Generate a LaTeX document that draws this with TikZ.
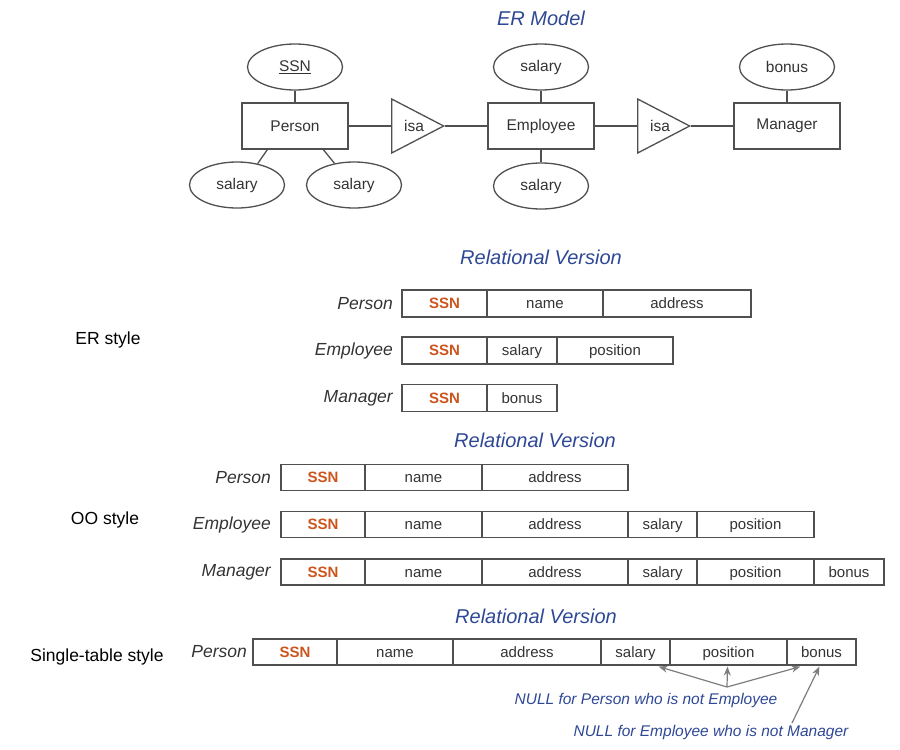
\documentclass[tikz,border=0pt]{standalone}
\usepackage{fontspec}
\setmainfont{Liberation Sans}
\usetikzlibrary{shapes.geometric,calc,arrows.meta}
\definecolor{ttl}{RGB}{46,72,150}
\definecolor{ssncol}{RGB}{204,85,30}
\definecolor{ink}{RGB}{51,51,51}
\definecolor{edgecol}{RGB}{80,80,80}
\definecolor{arrcol}{RGB}{125,125,125}
\newcommand{\mkcell}[6]{\node[cell, minimum width={#3-#2}, minimum height=#5] (#1) at ({(#2+#3)/2},#4) {#6};}
\begin{document}
\begin{tikzpicture}[x=1pt,y=-1pt,
  title/.style={font=\fontsize{20}{24}\selectfont\itshape, text=ttl, inner sep=0},
  sidelab/.style={font=\fontsize{17.5}{20}\selectfont, text=black, inner sep=0},
  rowlab/.style={anchor=east, font=\fontsize{17.5}{20}\selectfont\itshape, text=ink, inner sep=0},
  cell/.style={draw=edgecol, line width=1.2pt, inner sep=0, font=\fontsize{15}{18}\selectfont, text=ink, text height=10.7pt, text depth=0pt},
  ent/.style={draw=edgecol, line width=1.3pt, rectangle, minimum width=106, minimum height=46, inner sep=0, font=\fontsize{15.5}{18}\selectfont, text=ink},
  attr/.style={draw=edgecol, line width=1.3pt, ellipse, minimum width=95, minimum height=46, inner sep=0, font=\fontsize{15.5}{18}\selectfont, text=ink},
  isatri/.style={draw=edgecol, line width=1.3pt, isosceles triangle, isosceles triangle stretches, minimum width=54, minimum height=52, inner sep=0, anchor=west},
  isatext/.style={font=\fontsize{15.5}{18}\selectfont, text=ink, inner sep=0},
  link/.style={draw=edgecol, line width=1.3pt},
  nullnote/.style={font=\fontsize{15.5}{18}\selectfont\itshape, text=ttl, inner sep=0},
  nullarrow/.style={draw=arrcol, line width=1.2pt, -{Stealth[length=9pt,width=7pt]}}
]
\useasboundingbox (0,0) rectangle (900,750);

% ---------- ER model ----------
\node[title] (ertitle) at (541,18) {ER Model};
\node[ent] (person) at (295,126) {Person};
\node[ent] (employee) at (541,126) {Employee};
\node[ent] (manager) at (787,126) {Manager};
\node[attr] (ssn) at (295,67) {\underline{SSN}};
\node[attr] (salL) at (237,185) {salary};
\node[attr] (salR) at (354,185) {salary};
\node[attr] (salT) at (541,67) {salary};
\node[attr] (salB) at (541,186) {salary};
\node[attr] (bonus) at (787,67) {bonus};
\node[isatri] (isa1) at (391,126) {};
\node[isatri] (isa2) at (637,126) {};
\node[isatext] (isa1t) at ($(isa1.west)+(23,0)$) {isa};
\node[isatext] (isa2t) at ($(isa2.west)+(23,0)$) {isa};

\draw[link] (ssn) -- (person);
\draw[link] (salL.46) -- ($(person.south west)+(26,0)$);
\draw[link] (salR.132) -- ($(person.south west)+(82,0)$);
\draw[link] (person.east) -- (isa1.west);
\draw[link] (isa1.apex) -- (employee.west);
\draw[link] (salT) -- (employee);
\draw[link] (salB) -- (employee);
\draw[link] (employee.east) -- (isa2.west);
\draw[link] (isa2.apex) -- (manager.west);
\draw[link] (bonus) -- (manager);

% ---------- side labels ----------
\node[sidelab] (erstyle) at (108,340) {ER style};
\node[sidelab] (oostyle) at (105,520) {OO style};
\node[sidelab] (ststyle) at (97,657) {Single-table style};

% ---------- ER style relational ----------
\node[title] (rv1) at (541,257) {Relational Version};
\node[rowlab] (l1p) at (393,303.5) {Person};
\node[rowlab] (l1e) at (393,350.5) {Employee};
\node[rowlab] (l1m) at (393,398) {Manager};
\mkcell{aP1}{402}{487}{303.5}{27}{\textcolor{ssncol}{\bfseries SSN}}
\mkcell{aP2}{487}{603}{303.5}{27}{name}
\mkcell{aP3}{603}{751}{303.5}{27}{address}
\mkcell{aE1}{402}{487}{350.5}{27}{\textcolor{ssncol}{\bfseries SSN}}
\mkcell{aE2}{487}{557}{350.5}{27}{salary}
\mkcell{aE3}{557}{673}{350.5}{27}{position}
\mkcell{aM1}{402}{487}{398}{27}{\textcolor{ssncol}{\bfseries SSN}}
\mkcell{aM2}{487}{557}{398}{27}{bonus}

% ---------- OO style relational ----------
\node[title] (rv2) at (535,440) {Relational Version};
\node[rowlab] (l2p) at (271,477.5) {Person};
\node[rowlab] (l2e) at (271,524.5) {Employee};
\node[rowlab] (l2m) at (271,572) {Manager};
\mkcell{bP1}{281}{365}{477.5}{26}{\textcolor{ssncol}{\bfseries SSN}}
\mkcell{bP2}{365}{482}{477.5}{26}{name}
\mkcell{bP3}{482}{628}{477.5}{26}{address}
\mkcell{bE1}{281}{365}{524.5}{26}{\textcolor{ssncol}{\bfseries SSN}}
\mkcell{bE2}{365}{482}{524.5}{26}{name}
\mkcell{bE3}{482}{628}{524.5}{26}{address}
\mkcell{bE4}{628}{697}{524.5}{26}{salary}
\mkcell{bE5}{697}{814}{524.5}{26}{position}
\mkcell{bM1}{281}{365}{572}{26}{\textcolor{ssncol}{\bfseries SSN}}
\mkcell{bM2}{365}{482}{572}{26}{name}
\mkcell{bM3}{482}{628}{572}{26}{address}
\mkcell{bM4}{628}{697}{572}{26}{salary}
\mkcell{bM5}{697}{814}{572}{26}{position}
\mkcell{bM6}{814}{884}{572}{26}{bonus}

% ---------- single-table relational ----------
\node[title] (rv3) at (536,616) {Relational Version};
\node[rowlab] (l3p) at (247,652) {Person};
\mkcell{cP1}{253}{337}{652}{26}{\textcolor{ssncol}{\bfseries SSN}}
\mkcell{cP2}{337}{453}{652}{26}{name}
\mkcell{cP3}{453}{601}{652}{26}{address}
\mkcell{cP4}{601}{670}{652}{26}{salary}
\mkcell{cP5}{670}{787}{652}{26}{position}
\mkcell{cP6}{787}{856}{652}{26}{bonus}

\node[nullnote] (n1) at (646,700) {NULL for Person who is not Employee};
\node[nullnote] (n2) at (711,732) {NULL for Employee who is not Manager};
\coordinate (hub) at (727,687);
\coordinate (foot2) at (792,723);
\draw[nullarrow] (hub) -- ($(cP4.south east)+(-12,1)$);
\draw[nullarrow] (hub) -- ($(cP5.south)+(-1,1)$);
\draw[nullarrow] (hub) -- ($(cP6.south west)+(14,1)$);
\draw[nullarrow] (foot2) -- ($(cP6.south west)+(33,1)$);
\end{tikzpicture}
\end{document}
